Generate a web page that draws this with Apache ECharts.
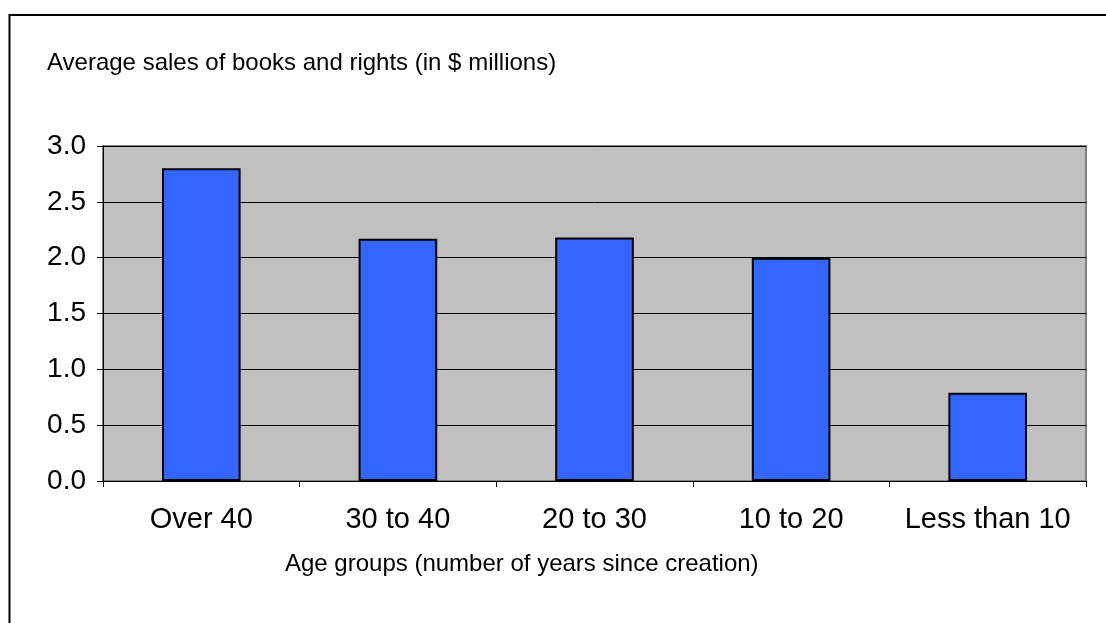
<!DOCTYPE html>
<html>
<head>
<meta charset="utf-8">
<script src="https://cdn.jsdelivr.net/npm/echarts@6/dist/echarts.min.js"></script>
<style>
  html, body { margin: 0; padding: 0; background: #fff; }
  #chart { width: 1106px; height: 623px; }
</style>
</head>
<body>
<div id="chart"></div>
<script>
// Age groups and average sales per group (in $ millions)
const categories = ['Over 40', '30 to 40', '20 to 30', '10 to 20', 'Less than 10'];
const salesValues = [2.80, 2.17, 2.18, 2.00, 0.79];
const yTicks = [0, 0.5, 1.0, 1.5, 2.0, 2.5, 3.0];

const chartTitle = 'Average sales of books and rights (in $ millions)';
const xAxisTitle = 'Age groups (number of years since creation)';

const FONT = 'Liberation Sans, Arial, sans-serif';

const chart = echarts.init(document.getElementById('chart'), null, { renderer: 'canvas' });

chart.setOption({
  backgroundColor: '#ffffff',
  animation: false,
  title: {
    text: chartTitle,
    left: 42,
    top: 46,
    textStyle: { fontFamily: FONT, fontSize: 24, fontWeight: 'normal', color: '#000' }
  },
  graphic: [
    {
      type: 'rect',
      shape: { x: 9.5, y: 15, width: 1200, height: 700 },
      style: { fill: 'none', stroke: '#000', lineWidth: 2 },
      silent: true
    },
    {
      type: 'text',
      left: 285,
      top: 552,
      style: { text: xAxisTitle, font: '24px ' + FONT, fill: '#000' },
      silent: true
    }
  ],
  grid: {
    left: 103,
    right: 20,
    top: 146,
    bottom: 142,
    show: true,
    backgroundColor: '#C0C0C0',
    borderColor: '#808080',
    borderWidth: 2
  },
  xAxis: {
    type: 'category',
    data: categories,
    axisLine: { lineStyle: { color: '#000', width: 1 } },
    axisTick: { show: true, interval: 0, length: 6, lineStyle: { color: '#000' } },
    axisLabel: {
      interval: 0, hideOverlap: false,
      fontFamily: FONT, fontSize: 29, color: '#000', margin: 24
    }
  },
  yAxis: {
    type: 'value',
    min: yTicks[0],
    max: yTicks[yTicks.length - 1],
    interval: 0.5,
    axisLine: { show: true, lineStyle: { color: '#000', width: 1 } },
    axisTick: { show: true, length: 6, lineStyle: { color: '#000' } },
    axisLabel: {
      fontFamily: FONT, fontSize: 28, color: '#000', margin: 17,
      formatter: v => v.toFixed(1)
    },
    splitLine: { show: true, lineStyle: { color: '#000', width: 1 } }
  },
  series: [{
    type: 'bar',
    data: salesValues,
    barWidth: '40%',
    itemStyle: { color: '#3366FF', borderColor: '#000', borderWidth: 2 }
  }]
});
</script>
</body>
</html>
